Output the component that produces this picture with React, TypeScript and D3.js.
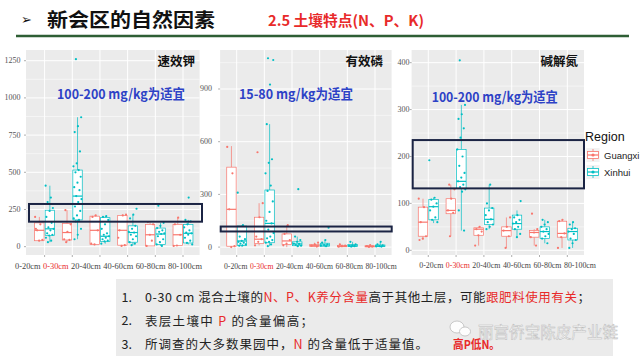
import React from "react";
import * as d3 from "d3";

const categories = ["0-20cm", "0-30cm", "20-40cm", "40-60cm", "60-80cm", "80-100cm"];
const regions = ["Guangxi", "Xinhui"];
const regionColors = ["#F8766D", "#00BFC4"];

// box stats per category: [lowerWhisker, q1, median, q3, upperWhisker]
const kGuangxiBox = [[40, 40, 110, 160, 200], [30, 45, 95, 155, 245], [10, 15, 110, 205, 210], [5, 10, 110, 210, 215], [5, 5, 80, 150, 165], [5, 8, 80, 150, 195]];
const kXinhuiBox = [[30, 75, 120, 245, 410], [50, 180, 340, 515, 870], [20, 35, 70, 195, 205], [10, 30, 95, 140, 215], [5, 15, 85, 125, 160], [15, 25, 90, 150, 180]];
const kGuangxiPts = [[200, 150, 110, 45, 40, 120], [245, 150, 100, 50, 45, 30], [210, 200, 110, 15, 20], [215, 210, 110, 10, 5, 60], [165, 150, 80, 5, 40], [195, 150, 80, 8, 5]];
const kXinhuiPts = [
  [410, 330, 300, 260, 240, 200, 160, 130, 120, 110, 90, 80, 75, 60, 40, 30],
  [1260, 870, 810, 770, 640, 560, 540, 515, 500, 470, 430, 400, 380, 340, 320, 300, 270, 240, 210, 190, 180, 170, 120, 80, 50],
  [205, 200, 180, 150, 120, 90, 80, 70, 60, 50, 40, 35, 20],
  [255, 215, 190, 140, 120, 100, 95, 80, 70, 50, 30, 20, 10],
  [275, 160, 140, 125, 110, 100, 90, 85, 70, 50, 30, 15, 5],
  [330, 180, 170, 150, 130, 110, 95, 90, 80, 60, 40, 25, 15],
];

const pGuangxiBox = [[0, 5, 215, 455, 575], [10, 20, 45, 170, 250], [0, 15, 35, 75, 125], [0, 3, 8, 15, 25], [0, 2, 5, 10, 15], [0, 1, 4, 8, 12]];
const pXinhuiBox = [[0, 10, 35, 120, 125], [5, 25, 135, 325, 700], [0, 8, 18, 30, 60], [0, 5, 12, 22, 40], [0, 3, 7, 15, 30], [0, 3, 6, 12, 30]];
const pGuangxiPts = [[570, 420, 215, 5, 0], [540, 250, 170, 60, 45, 30, 10], [125, 75, 40, 20, 10], [25, 15, 8, 3], [15, 8, 5, 2], [12, 6, 3, 1]];
const pXinhuiPts = [
  [310, 125, 60, 45, 35, 30, 25, 20, 15, 10, 8],
  [1075, 1065, 925, 700, 500, 480, 420, 350, 320, 260, 200, 150, 135, 100, 80, 60, 50, 40, 30, 25, 15, 5],
  [330, 60, 40, 30, 20, 18, 12, 8, 5],
  [110, 40, 25, 15, 12, 8, 5],
  [30, 15, 10, 7, 5, 3],
  [30, 15, 10, 6, 4, 3],
];

const nGuangxiBox = [[22, 30, 60, 92, 110], [30, 78, 85, 110, 140], [10, 32, 45, 48, 50], [5, 30, 42, 50, 70], [10, 28, 38, 42, 45], [5, 28, 36, 62, 65]];
const nXinhuiBox = [[58, 65, 93, 108, 112], [42, 132, 147, 215, 310], [45, 55, 66, 90, 140], [28, 45, 57, 75, 85], [15, 25, 40, 50, 65], [5, 22, 40, 47, 60]];
const nGuangxiPts = [[110, 92, 60, 30, 25, 22], [140, 130, 110, 85, 80, 30], [50, 45, 40, 32, 10], [70, 50, 42, 30, 5], [78, 45, 38, 28, 10], [65, 62, 36, 28, 5]];
const nXinhuiPts = [
  [192, 112, 108, 100, 93, 85, 70, 65, 60],
  [405, 310, 290, 280, 260, 240, 215, 200, 180, 165, 155, 147, 140, 135, 130, 125, 85, 42],
  [140, 100, 90, 85, 75, 66, 60, 55, 50, 45],
  [105, 75, 70, 65, 60, 57, 50, 45, 35, 28],
  [65, 60, 55, 50, 45, 40, 35, 30, 25, 15],
  [60, 55, 47, 45, 40, 35, 25, 22, 15, 5],
];

const kTicks = [0, 250, 500, 750, 1000, 1250];
const pTicks = [0, 300, 600, 900];
const nTicks = [0, 100, 200, 300, 400];

const kBand = [168, 287];
const pBand = [89, 117];
const nBand = [132, 235];

const panelTitles = ["速效钾", "有效磷", "碱解氮"];
const optimumTexts = ["100-200 mg/kg为适宜", "15-80 mg/kg为适宜", "100-200 mg/kg为适宜"];
const highlightCategory = "0-30cm";

const CJK = "'Noto Sans CJK SC', 'Noto Sans', sans-serif";
const SERIF = "'Liberation Serif', 'DejaVu Serif', serif";
const SANS = "'Liberation Sans', Arial, sans-serif";
const RED = "#e82a2a";

type Cfg = {
  x0: number; x1: number; y0: number; y1: number; bgX0: number;
  yDomain: [number, number]; ticks: number[]; labelRight: number;
  band: number[]; bandX: [number, number];
  boxes: number[][][]; pts: number[][][];
  title: string; titleX: number;
  opt: string; optX: number; optW: number; optY: number;
  xlabX: number; xlabW: number; xlabY: number;
};

function Panel({ c }: { c: Cfg }) {
  const x = d3.scalePoint<string>().domain(categories).range([c.x0, c.x1]).padding(0.6);
  const step = x.step();
  const y = d3.scaleLinear().domain(c.yDomain).range([c.y1, c.y0]);
  const tstep = c.ticks[1] - c.ticks[0];
  const minors: number[] = [];
  for (let i = -1; i < c.ticks.length; i++) {
    const m = c.ticks[0] + (i + 0.5) * tstep;
    if (m > c.yDomain[0] && m < c.yDomain[1]) minors.push(m);
  }
  const bw = 0.34 * step;
  // x labels laid out sequentially across the label strip
  const gap = 2.5;
  const totalChars = d3.sum(categories, (s) => s.length);
  const unit = (c.xlabW - gap * (categories.length - 1)) / totalChars;
  let cursor = c.xlabX;
  const labelPos = categories.map((cat) => {
    const w = cat.length * unit;
    const p = { x: cursor, w };
    cursor += w + gap;
    return p;
  });
  return (
    <g>
      <rect x={c.bgX0} y={c.y0} width={c.x1 - c.bgX0} height={c.y1 - c.y0} fill="#EBEBEB" />
      {minors.map((m) => (
        <line key={"mn" + m} x1={c.bgX0} x2={c.x1} y1={y(m)} y2={y(m)} stroke="#fff" strokeWidth={0.5} />
      ))}
      {c.ticks.map((t) => (
        <line key={"mj" + t} x1={c.bgX0} x2={c.x1} y1={y(t)} y2={y(t)} stroke="#fff" strokeWidth={1} />
      ))}
      {categories.map((cat) => (
        <line key={"v" + cat} x1={x(cat)} x2={x(cat)} y1={c.y0} y2={c.y1} stroke="#fff" strokeWidth={1} />
      ))}
      {c.ticks.map((t) => (
        <g key={"tl" + t}>
          <line x1={c.bgX0 - 2} x2={c.bgX0} y1={y(t)} y2={y(t)} stroke="#777" strokeWidth={0.6} />
          <text x={c.labelRight} y={y(t)} fontFamily={SERIF} fontSize={8} fill="#555" textAnchor="end" dominantBaseline="central">{t}</text>
        </g>
      ))}
      {categories.map((cat) => (
        <line key={"xt" + cat} x1={x(cat)} x2={x(cat)} y1={c.y1} y2={c.y1 + 2} stroke="#777" strokeWidth={0.6} />
      ))}
      {regions.map((r, g) =>
        categories.map((cat, ci) => {
          const [lo, q1, med, q3, hi] = c.boxes[g][ci];
          const cx = (x(cat) as number) + (g === 0 ? -1 : 1) * 0.19 * step;
          const col = regionColors[g];
          return (
            <g key={r + cat}>
              <line x1={cx} x2={cx} y1={y(hi)} y2={y(q3)} stroke={col} strokeWidth={0.7} />
              <line x1={cx} x2={cx} y1={y(q1)} y2={y(lo)} stroke={col} strokeWidth={0.7} />
              <rect x={cx - bw / 2} y={y(q3)} width={bw} height={Math.max(0.6, y(q1) - y(q3))} fill="#fff" stroke={col} strokeWidth={0.7} />
              <line x1={cx - bw / 2} x2={cx + bw / 2} y1={y(med)} y2={y(med)} stroke={col} strokeWidth={1.2} />
            </g>
          );
        })
      )}
      {regions.map((r, g) =>
        categories.map((cat, ci) => {
          const cx = (x(cat) as number) + (g === 0 ? -1 : 1) * 0.19 * step;
          return c.pts[g][ci].map((v, i) => {
            const dx = (((i * 0.618034 + ci * 0.31) % 1) - 0.5) * bw * 0.9;
            return <circle key={r + cat + i} cx={cx + dx} cy={y(v)} r={1.1} fill={regionColors[g]} />;
          });
        })
      )}
      <rect x={c.bandX[0]} y={y(c.band[1])} width={c.bandX[1] - c.bandX[0]} height={y(c.band[0]) - y(c.band[1])} fill="none" stroke="#1b2444" strokeWidth={2} />
      <text x={c.titleX} y={60.7} textAnchor="end" dominantBaseline="central" fontFamily={CJK} fontWeight={700} fontSize={12.5} fill="#111">{c.title}</text>
      <text x={c.optX} y={c.optY} dominantBaseline="central" fontFamily={CJK} fontWeight={700} fontSize={13.5} fill="#2d42c6" textLength={c.optW} lengthAdjust="spacingAndGlyphs">{c.opt}</text>
      {categories.map((cat, i) => (
        <text key={"xl" + cat} x={labelPos[i].x} y={c.xlabY} dominantBaseline="central" fontFamily={SERIF} fontSize={9}
          fill={cat === highlightCategory ? RED : "#444"} textLength={labelPos[i].w} lengthAdjust="spacingAndGlyphs">{cat}</text>
      ))}
    </g>
  );
}

const panels: Cfg[] = [
  {
    x0: 28, x1: 199.6, y0: 50, y1: 255, bgX0: 26, yDomain: [-56, 1322], ticks: kTicks, labelRight: 20.5,
    band: kBand, bandX: [29, 202], boxes: [kGuangxiBox, kXinhuiBox], pts: [kGuangxiPts, kXinhuiPts],
    title: panelTitles[0], titleX: 195, opt: optimumTexts[0], optX: 57, optW: 128, optY: 93.3,
    xlabX: 15, xlabW: 187, xlabY: 266,
  },
  {
    x0: 220.1, x1: 391.6, y0: 50, y1: 255, bgX0: 220.1, yDomain: [-45, 1122], ticks: pTicks, labelRight: 212,
    band: pBand, bandX: [220.7, 391.7], boxes: [pGuangxiBox, pXinhuiBox], pts: [pGuangxiPts, pXinhuiPts],
    title: panelTitles[1], titleX: 383, opt: optimumTexts[1], optX: 239, optW: 114, optY: 93.3,
    xlabX: 224, xlabW: 172.7, xlabY: 266,
  },
  {
    x0: 411.6, x1: 584, y0: 50, y1: 255, bgX0: 411.6, yDomain: [-10, 427], ticks: nTicks, labelRight: 409.5,
    band: nBand, bandX: [412.7, 584], boxes: [nGuangxiBox, nXinhuiBox], pts: [nGuangxiPts, nXinhuiPts],
    title: panelTitles[2], titleX: 578, opt: optimumTexts[2], optX: 431.7, optW: 126, optY: 96,
    xlabX: 419.3, xlabW: 176.7, xlabY: 265,
  },
];

function LegendKey({ x, y, col }: { x: number; y: number; col: string }) {
  const w = 13, h = 14;
  return (
    <g>
      <rect x={x} y={y} width={w} height={h} fill="#F2F2F2" />
      <line x1={x + w / 2} x2={x + w / 2} y1={y + 1} y2={y + h - 1} stroke={col} strokeWidth={0.8} />
      <rect x={x + 1} y={y + 3.5} width={w - 2} height={h - 7} fill="#fff" stroke={col} strokeWidth={0.8} />
      <line x1={x + 1} x2={x + w - 1} y1={y + h / 2} y2={y + h / 2} stroke={col} strokeWidth={1.2} />
      <circle cx={x + w / 2} cy={y + h / 2} r={1.6} fill={col} />
    </g>
  );
}

const line1 = [["0-30 cm 混合土壤的", 0], ["N、P、K养分含量", 1], ["高于其他土层，可能", 0], ["跟肥料使用有关", 1], ["；", 0]] as [string, number][];
const line2 = [["表层土壤中  ", 0], ["P", 1], ["  的含量偏高；", 0]] as [string, number][];
const line3 = [["所调查的大多数果园中，", 0], ["N", 1], ["  的含量低于适量值。", 0]] as [string, number][];
const noteLines = [line1, line2, line3];
const noteWidths = [445, 168, 283];

export default function App() {
  return (
    <svg width={640} height={360} viewBox="0 0 640 360" style={{ position: "absolute", left: 0, top: 0, background: "#fff" }}>
      <rect x={0} y={0} width={640} height={360} fill="#fff" />
      <text x={21} y={19} dominantBaseline="central" fontFamily="'DejaVu Sans', sans-serif" fontSize={13} fill="#111">➢</text>
      <text x={47} y={18.5} dominantBaseline="central" fontFamily={CJK} fontWeight={700} fontSize={19} fill="#111" textLength={168} lengthAdjust="spacingAndGlyphs">新会区的自然因素</text>
      <text x={268} y={19} dominantBaseline="central" fontFamily={CJK} fontWeight={700} fontSize={14.5} fill={RED} textLength={156} lengthAdjust="spacingAndGlyphs">2.5 土壤特点(N、P、K)</text>
      <line x1={16} x2={629} y1={36} y2={36} stroke="#2e5e34" strokeWidth={2.5} />

      {panels.map((c, i) => <Panel key={i} c={c} />)}

      <text x={585} y={137} dominantBaseline="central" fontFamily={SANS} fontSize={12.5} fill="#111">Region</text>
      {regions.map((r, i) => (
        <g key={r}>
          <LegendKey x={586.5} y={148 + i * 17} col={regionColors[i]} />
          <text x={604} y={155 + i * 17} dominantBaseline="central" fontFamily={SANS} fontSize={9.5} fill="#222">{r}</text>
        </g>
      ))}

      <rect x={116} y={279} width={497} height={77} fill="#EBEBEB" />
      {noteLines.map((ln, i) => (
        <g key={i}>
          <text x={121.5} y={296 + i * 23.5} dominantBaseline="central" fontFamily={CJK} fontSize={12.5} fill="#222">{i + 1 + "."}</text>
          <text x={145} y={296 + i * 23.5} dominantBaseline="central" fontFamily={CJK} fontSize={12.5} fill="#222" textLength={noteWidths[i]} lengthAdjust="spacing">
            {ln.map(([s, r], j) => (
              <tspan key={j} fill={r ? RED : "#222"}>{s}</tspan>
            ))}
          </text>
        </g>
      ))}
      <g opacity={0.9}>
        <ellipse cx={457} cy={327} rx={7} ry={6} fill="#fff" stroke="#b8b8b8" strokeWidth={0.8} />
        <ellipse cx={465} cy={331.5} rx={5.5} ry={4.5} fill="#fff" stroke="#b8b8b8" strokeWidth={0.8} />
        <text x={478} y={331} dominantBaseline="central" fontFamily={CJK} fontSize={15.5} fill="#fafafa" stroke="#b8b8b8" strokeWidth={0.5} textLength={140} lengthAdjust="spacingAndGlyphs">丽宫侨宝陈皮产业链</text>
      </g>
      <text x={453} y={343} dominantBaseline="central" fontFamily={CJK} fontWeight={700} fontSize={12} fill={RED} textLength={47} lengthAdjust="spacingAndGlyphs">高P低N。</text>
    </svg>
  );
}
